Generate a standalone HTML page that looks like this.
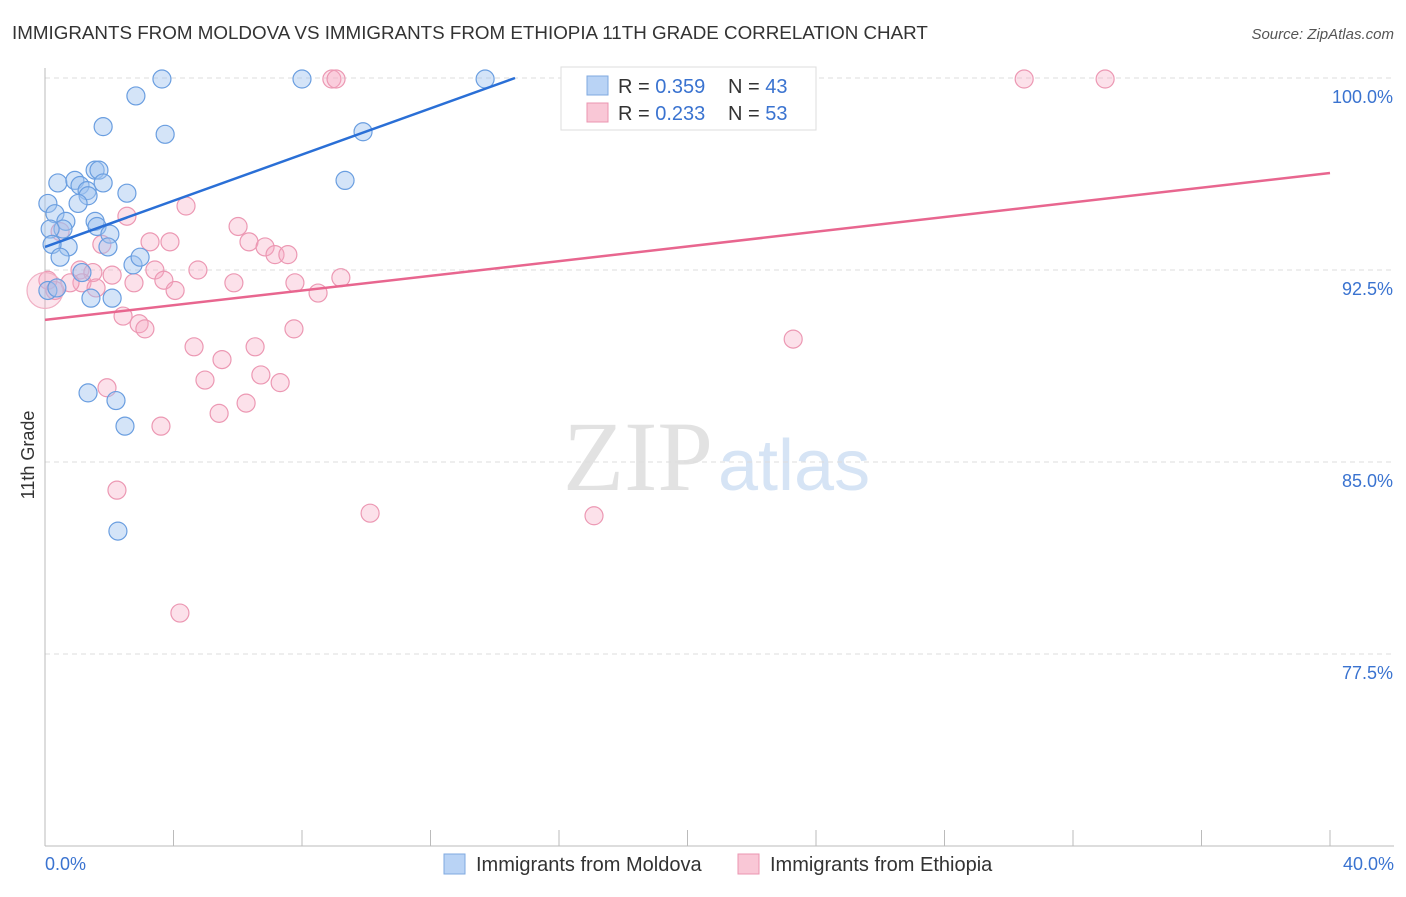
<!DOCTYPE html>
<html><head><meta charset="utf-8"><style>
body{margin:0;background:#fff;font-family:"Liberation Sans",sans-serif}
</style></head><body>
<svg id="chart" width="1406" height="892" font-family="Liberation Sans, sans-serif">
<text x="12" y="39" font-size="18.8" fill="#333">IMMIGRANTS FROM MOLDOVA VS IMMIGRANTS FROM ETHIOPIA 11TH GRADE CORRELATION CHART</text>
<text x="1394" y="39" font-size="15" fill="#555" text-anchor="end" font-style="italic">Source: ZipAtlas.com</text>
<text x="713" y="490" font-size="100" fill="#e2e2e2" style="font-family:'Liberation Serif',serif" text-anchor="end">ZIP</text>
<text x="718" y="490" font-size="72" fill="#d6e4f5">atlas</text>
<text transform="translate(34,455) rotate(-90)" font-size="18" fill="#333" text-anchor="middle">11th Grade</text>
<g id="grid"></g><g id="pts"></g><g id="lines"></g>
<g>
<rect x="561" y="67" width="255" height="63" fill="#fff" stroke="#ddd"/>
<rect x="587" y="76" width="21" height="19" fill="#b9d3f5" stroke="#7fa9e0"/>
<rect x="587" y="103" width="21" height="19" fill="#f9c7d6" stroke="#eb95b0"/>
<text x="618" y="93" font-size="20" fill="#333">R = <tspan fill="#3a73d0">0.359</tspan></text>
<text x="728" y="93" font-size="20" fill="#333">N = <tspan fill="#3a73d0">43</tspan></text>
<text x="618" y="120" font-size="20" fill="#333">R = <tspan fill="#3a73d0">0.233</tspan></text>
<text x="728" y="120" font-size="20" fill="#333">N = <tspan fill="#3a73d0">53</tspan></text>
</g>
<g>
<rect x="444" y="854" width="21" height="20" fill="#b9d3f5" stroke="#7fa9e0"/>
<text x="476" y="871" font-size="20" fill="#333">Immigrants from Moldova</text>
<rect x="738" y="854" width="21" height="20" fill="#f9c7d6" stroke="#eb95b0"/>
<text x="770" y="871" font-size="20" fill="#333">Immigrants from Ethiopia</text>
</g>
</svg>
<script>
const blueX=[3.64,8.0,13.7,2.83,1.81,3.74,9.9,9.34,0.40,0.93,1.09,1.31,1.56,1.68,1.81,2.55,1.34,1.03,0.09,0.31,0.65,1.56,1.62,0.56,0.16,2.02,1.96,0.72,0.22,0.47,2.74,2.96,1.15,2.09,1.43,0.09,1.34,2.21,2.49,2.27,0.37];
const blueY=[99.96,99.96,99.96,99.3,98.1,97.8,97.9,96.0,95.9,96.0,95.8,95.6,96.4,96.4,95.9,95.5,95.4,95.1,95.1,94.7,94.4,94.4,94.2,94.1,94.1,93.9,93.4,93.4,93.5,93.0,92.7,93.0,92.4,91.4,91.4,91.7,87.7,87.4,86.4,82.3,91.8];
const pinkX=[8.93,9.06,30.48,33.0,4.39,2.55,6.01,0.47,3.27,3.89,1.77,6.35,6.85,7.16,7.56,1.09,1.49,2.09,3.42,4.76,3.70,2.77,4.05,5.88,7.78,9.21,8.50,1.15,1.59,0.31,0.09,2.43,2.93,3.11,7.75,4.64,6.54,5.51,23.29,4.98,6.72,7.32,1.93,6.26,5.42,3.61,2.24,10.12,17.09,4.20,0.78];
const pinkY=[99.96,99.96,99.96,99.96,95.0,94.6,94.2,94.0,93.6,93.6,93.5,93.6,93.4,93.1,93.1,92.5,92.4,92.3,92.5,92.5,92.1,92.0,91.7,92.0,92.0,92.2,91.6,92.0,91.8,91.7,92.1,90.7,90.4,90.2,90.2,89.5,89.5,89.0,89.8,88.2,88.4,88.1,87.9,87.3,86.9,86.4,83.9,83.0,82.9,79.1,92.0];
const bigPink=[0.0,91.7];
const blueLine=[[0,93.4],[14.63,100]];
const pinkLine=[[0,90.55],[40,96.29]];
const yTicks=[100,92.5,85,77.5];
const yTickLabels=["100.0%","92.5%","85.0%","77.5%"];
const xTickVals=[0,4,8,12,16,20,24,28,32,36,40];
const X=v=>45+v/40*1285;
const Y=v=>78+(100-v)/7.5*192;
const NS="http://www.w3.org/2000/svg";
function mk(t,a,p){const e=document.createElementNS(NS,t);for(const k in a)e.setAttribute(k,a[k]);p.appendChild(e);return e;}
const grid=document.getElementById('grid'),pts=document.getElementById('pts'),lines=document.getElementById('lines');
yTicks.forEach((v,i)=>{
 const l=mk('line',{x1:45,x2:1394,y1:Y(v),y2:Y(v),stroke:'#ddd','stroke-dasharray':'5,4'},grid);
 
 
 const t=mk('text',{x:1393,y:Y(v)+25,'font-size':18,fill:'#3a73d0','text-anchor':'end'},grid);
 t.textContent=yTickLabels[i];
 
 
});
const ax=mk('line',{x1:45,x2:45,y1:68,y2:846,stroke:'#bbb'},grid);


const bx=mk('line',{x1:45,x2:1394,y1:846,y2:846,stroke:'#bbb'},grid);


xTickVals.forEach(v=>{
 const t=mk('line',{x1:X(v),x2:X(v),y1:830,y2:846,stroke:'#bbb'},grid);
 
 
});
[[0,'0.0%','start',45],[40,'40.0%','end',1394]].forEach(d=>{
 const t=mk('text',{x:d[3],y:870,'font-size':18,fill:'#3a73d0','text-anchor':d[2]},grid);
 t.textContent=d[1];
 
 
});
pinkX.forEach((x,i)=>{
 const c=mk('circle',{cx:X(x),cy:Y(pinkY[i]),r:9,fill:'rgba(246,170,195,0.35)',stroke:'#ec98b3','stroke-width':1.2},pts);
 
 
});
const bp=mk('circle',{cx:X(bigPink[0]),cy:Y(bigPink[1]),r:18,fill:'rgba(246,170,195,0.3)',stroke:'#f0b0c4','stroke-width':1.2},pts);


blueX.forEach((x,i)=>{
 const c=mk('circle',{cx:X(x),cy:Y(blueY[i]),r:9,fill:'rgba(160,195,240,0.45)',stroke:'#6a9ee0','stroke-width':1.2},pts);
 
 
});
const l1=mk('line',{x1:X(blueLine[0][0]),y1:Y(blueLine[0][1]),x2:X(blueLine[1][0]),y2:Y(blueLine[1][1]),stroke:'#2a6fd6','stroke-width':2.5},lines);


const l2=mk('line',{x1:X(pinkLine[0][0]),y1:Y(pinkLine[0][1]),x2:X(pinkLine[1][0]),y2:Y(pinkLine[1][1]),stroke:'#e8668f','stroke-width':2.5},lines);


</script>
</body></html>
